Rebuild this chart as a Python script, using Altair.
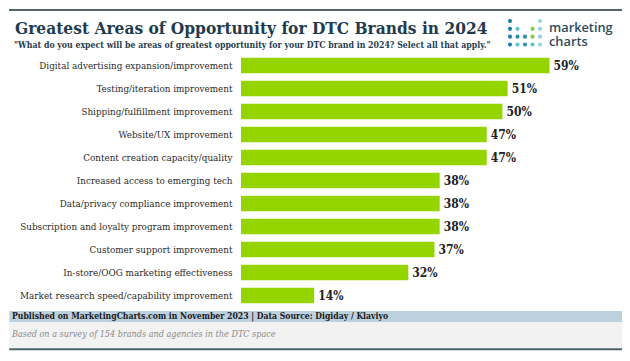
import altair as alt
import pandas as pd

categories = [
    "Digital advertising expansion/improvement",
    "Testing/iteration improvement",
    "Shipping/fulfillment improvement",
    "Website/UX improvement",
    "Content creation capacity/quality",
    "Increased access to emerging tech",
    "Data/privacy compliance improvement",
    "Subscription and loyalty program improvement",
    "Customer support improvement",
    "In-store/OOG marketing effectiveness",
    "Market research speed/capability improvement",
]
values = [59, 51, 50, 47, 47, 38, 38, 38, 37, 32, 14]

title_text = "Greatest Areas of Opportunity for DTC Brands in 2024"
subtitle_text = "\"What do you expect will be areas of greatest opportunity for your DTC brand in 2024? Select all that apply.\""
footer_text = "Published on MarketingCharts.com in November 2023 | Data Source: Digiday / Klaviyo"
note_text = "Based on a survey of 154 brands and agencies in the DTC space"

logo_rows = [1, 1, 2, 2, 2, 2, 3, 3, 3, 3, 3, 4, 4, 4, 4, 4]
logo_cols = [1, 5, 1, 2, 4, 5, 1, 2, 3, 4, 5, 1, 2, 3, 4, 5]
logo_colors = ["#1b7fa3", "#8fd6de", "#1b7fa3", "#5cc3cf", "#8cc63f", "#8fd6de",
               "#1b7fa3", "#2a8fb0", "#2a8fb0", "#8cc63f", "#8fd6de",
               "#1b7fa3", "#5cc3cf", "#2a8fb0", "#5cc3cf", "#8fd6de"]

SERIF = "DejaVu Serif Condensed"

df = pd.DataFrame({"label": categories, "value": values})
df["txt"] = [f"{v}%" for v in values]

y_enc = alt.Y(
    "label:N", sort=categories, title=None,
    scale=alt.Scale(paddingInner=0.33, paddingOuter=0.165),
    axis=alt.Axis(ticks=False, domain=False, labelPadding=9, labelFont=SERIF,
                  labelFontSize=9.8, labelColor="#2b2b2b", labelLimit=400),
)
x_enc = alt.X("value:Q", scale=alt.Scale(domain=[0, 70]), axis=None)

bars = alt.Chart(df).mark_bar(color="#94d500").encode(x=x_enc, y=y_enc)
vals = alt.Chart(df).mark_text(align="left", baseline="middle", dx=4, font=SERIF,
                               fontWeight="bold", fontSize=12, color="#222222").encode(
    x=x_enc, y=y_enc, text="txt:N")
main = alt.layer(bars, vals)

one = pd.DataFrame({"t": [0]})

def txt(s, x, y, **kw):
    d = pd.DataFrame({"s": [s]})
    return alt.Chart(d).mark_text(align="left", baseline="alphabetic", **kw).encode(
        x=alt.value(x), y=alt.value(y), text="s:N")

top_rule = alt.Chart(one).mark_rule(color="#53656e", strokeWidth=2).encode(
    x=alt.value(-232), x2=alt.value(381), y=alt.value(-44))
title = txt(title_text, -226, -19.7, font=SERIF, fontSize=17.2, fontWeight="bold", color="#1f3b4d")
subtitle = txt(subtitle_text, -227, -6, font=SERIF, fontSize=8.7, fontWeight="bold", color="#1f3b4d")
logo1 = txt("marketing", 308, -22, font="Open Sans", fontSize=12.8, fontWeight=600, color="#2d4b5c")
logo2 = txt("charts", 308, -8.5, font="Open Sans", fontSize=12.8, fontWeight=600, color="#2d4b5c")

ldf = pd.DataFrame({"r": logo_rows, "c": logo_cols, "col": logo_colors})
logo_dots = alt.Chart(ldf).mark_circle(size=17, opacity=1).encode(
    x=alt.X("c:Q", scale=alt.Scale(domain=[1, 5], range=[269, 299]), axis=None),
    y=alt.Y("r:Q", scale=alt.Scale(domain=[1, 4], range=[-33, -9.5]), axis=None),
    color=alt.Color("col:N", scale=None),
)

band1 = alt.Chart(one).mark_rect(color="#bdd0dd").encode(
    x=alt.value(-231.7), x2=alt.value(381), y=alt.value(257), y2=alt.value(268.3))
band2 = alt.Chart(one).mark_rect(color="#f2f2f2").encode(
    x=alt.value(-231.7), x2=alt.value(381), y=alt.value(268.3), y2=alt.value(294.3))
bottom_rule = alt.Chart(one).mark_rule(color="#4e6068", strokeWidth=2).encode(
    x=alt.value(-231.7), x2=alt.value(381), y=alt.value(295.3))
footer = txt(footer_text, -229, 265.3, font=SERIF, fontSize=8.6, fontWeight="bold", color="#1a1a1a")
note = txt(note_text, -229, 283, font=SERIF, fontSize=9, fontStyle="italic", color="#8a8a8a")

chart = alt.layer(
    band1, band2, main, top_rule, title, subtitle, logo_dots, logo1, logo2,
    bottom_rule, footer, note,
).resolve_scale(x="independent", y="independent").properties(
    width=366, height=253,
    padding={"left": 233, "top": 46, "right": 15, "bottom": 46},
    autosize=alt.AutoSizeParams(type="none"),
    background="white",
).configure_view(stroke=None)

chart.save("out.html", embed_options={"renderer": "svg", "actions": False})
